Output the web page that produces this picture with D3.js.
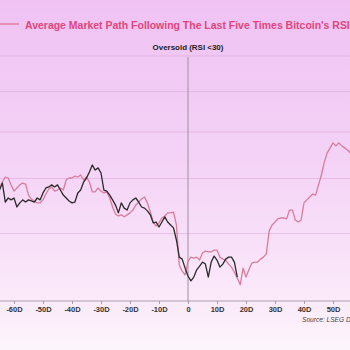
<!DOCTYPE html>
<html><head><meta charset="utf-8">
<script src="https://cdn.jsdelivr.net/npm/d3@7/dist/d3.min.js"></script>
<style>html,body{margin:0;padding:0;overflow:hidden;background:#fff}</style>
</head><body>
<svg id="chart" width="350" height="350"></svg>
<script>
const titleText = "Average Market Path Following The Last Five Times Bitcoin's RSI";
const annotationText = "Oversold (RSI <30)";
const sourceText = "Source: LSEG Datastream";
const tickDays = [-60,-50,-40,-30,-20,-10,0,10,20,30,40,50];
const tickLabels = ["-60D","-50D","-40D","-30D","-20D","-10D","0","10D","20D","30D","40D","50D"];
const gridValues = [100,120,140,160,180];

const pinkDays = [-65,-64,-63,-62,-61,-60,-59,-58,-57,-56,-55,-54,-53,-52,-51,-50,-49,-48,-47,-46,-45,-44,-43,-42,-41,-40,-39,-38,-37,-36,-35,-34,-33,-32,-31,-30,-29,-28,-27,-26,-25,-24,-23,-22,-21,-20,-19,-18,-17,-16,-15,-14,-13,-12,-11,-10,-9,-8,-7,-6,-5,-4,-3,-2,-1,0,1,2,3,4,5,6,7,8,9,10,11,12,13,14,15,16,17,18,19,20,21,22,23,24,25,26,27,28,29,30,31,32,33,34,35,36,37,38,39,40,41,42,43,44,45,46,47,48,49,50,51,52,53,54,55,56];
const pinkValues = [116.3,118.6,120.6,120.2,117.5,115.1,116.3,117.5,118.2,117.8,113.6,112.1,111.4,110.7,110.7,111.8,114.0,115.9,116.7,115.1,115.5,116.3,115.5,119.4,120.2,120.2,121.0,120.6,121.4,119.4,120.6,118.6,114.8,114.8,116.3,115.1,114.4,114.8,112.5,109.2,106.7,106.0,106.4,105.7,106.4,107.1,108.1,109.9,111.0,112.1,112.9,110.7,107.4,103.9,102.5,103.6,105.3,106.0,107.1,107.1,107.4,102.9,90.1,88.3,87.2,91.3,92.5,92.2,92.5,91.6,93.8,94.4,94.1,94.1,94.7,94.7,92.5,91.9,91.6,90.4,89.5,88.0,86.3,84.4,89.2,86.6,88.7,90.7,91.0,91.0,91.9,92.5,93.5,100.9,102.9,103.9,105.0,105.3,105.3,105.0,108.1,108.1,104.6,103.9,104.6,110.7,111.8,112.9,114.0,113.6,117.5,121.4,126.7,130.6,132.8,135.0,133.7,135.0,133.7,132.8,131.9,130.6];

const blackDays = [-65,-64,-63,-62,-61,-60,-59,-58,-57,-56,-55,-54,-53,-52,-51,-50,-49,-48,-47,-46,-45,-44,-43,-42,-41,-40,-39,-38,-37,-36,-35,-34,-33,-32,-31,-30,-29,-28,-27,-26,-25,-24,-23,-22,-21,-20,-19,-18,-17,-16,-15,-14,-13,-12,-11,-10,-9,-8,-7,-6,-5,-4,-3,-2,-1,0,1,2,3,4,5,6,7,8,9,10,11,12,13,14,15,16,17];
const blackValues = [115.5,118.2,111.0,112.5,111.8,112.5,109.2,110.7,111.8,111.0,111.8,111.4,111.0,112.5,111.8,114.4,116.3,116.7,117.5,116.7,117.5,115.5,113.6,112.5,111.4,110.7,111.0,114.4,115.5,118.6,120.2,122.6,125.5,123.4,124.3,122.2,115.5,115.1,113.6,111.8,109.9,107.1,110.7,108.8,108.1,110.7,111.8,112.5,111.0,109.2,108.8,107.8,106.4,103.6,103.9,102.2,103.9,105.7,103.9,102.9,101.9,97.9,92.5,91.9,89.2,86.9,85.5,86.6,88.7,89.8,91.0,90.4,86.6,91.0,92.8,91.6,89.5,90.4,91.9,92.5,92.5,91.0,86.6];

const svg = d3.select("#chart");
const W = 350, H = 350;

const defs = svg.append("defs");
const grad = defs.append("linearGradient").attr("id","bg").attr("x1",0).attr("y1",0).attr("x2",0).attr("y2",1);
grad.append("stop").attr("offset","0%").attr("stop-color","#efc2f3");
grad.append("stop").attr("offset","45%").attr("stop-color","#f4d2f6");
grad.append("stop").attr("offset","86%").attr("stop-color","#fbeafa");
grad.append("stop").attr("offset","100%").attr("stop-color","#fdf5fc");
svg.append("rect").attr("width",W).attr("height",H).attr("fill","url(#bg)");

const x = d3.scaleLinear().domain([-60,50]).range([14,333]);
const y = d3.scaleLog().domain([80,180]).range([301,56]);

defs.append("clipPath").attr("id","plotclip").append("rect")
  .attr("x",0).attr("y",40).attr("width",W).attr("height",261);

// gridlines
svg.append("g").selectAll("line").data(gridValues).join("line")
  .attr("x1",0).attr("x2",W).attr("y1",d=>y(d)).attr("y2",d=>y(d))
  .attr("stroke","#d9a6d9").attr("stroke-opacity",0.55).attr("stroke-width",1);

// vertical marker at day 0
svg.append("line").attr("x1",x(0)).attr("x2",x(0)).attr("y1",57).attr("y2",301)
  .attr("stroke","#a090a0").attr("stroke-width",1);

// lines
const line = d3.line().x(d=>x(d[0])).y(d=>y(d[1]));
const pinkData = pinkDays.map((d,i)=>[d,pinkValues[i]]);
const blackData = blackDays.map((d,i)=>[d,blackValues[i]]);
const lg = svg.append("g").attr("clip-path","url(#plotclip)");
lg.append("path").datum(pinkData).attr("d",line).attr("fill","none")
  .attr("stroke","#d87c9c").attr("stroke-width",1.3).attr("stroke-linejoin","round");
lg.append("path").datum(blackData).attr("d",line).attr("fill","none")
  .attr("stroke","#2a2a2a").attr("stroke-width",1.3).attr("stroke-linejoin","round");

// x axis
const xAxis = d3.axisBottom(x).tickValues(tickDays).tickFormat((d,i)=>tickLabels[i]).tickSize(3).tickPadding(3);
const ax = svg.append("g").attr("transform","translate(0,301)").call(xAxis);
ax.select(".domain").remove();
ax.append("line").attr("x1",0).attr("x2",W).attr("y1",0).attr("y2",0).attr("stroke","#a8a0a8");
ax.selectAll(".tick line").attr("stroke","#a8a0a8");
ax.selectAll(".tick text").attr("fill","#333").attr("font-family","'Liberation Sans', Arial, sans-serif")
  .attr("font-weight","bold").attr("font-size",7.5);

function fitText(sel, target){
  let fs = +sel.attr("font-size");
  const w = sel.node().getComputedTextLength();
  if (w>0) sel.attr("font-size", fs*target/w);
}

// legend line + title
svg.append("line").attr("x1",0).attr("x2",19).attr("y1",24).attr("y2",24)
  .attr("stroke","#e27ca2").attr("stroke-width",1.5);
const t = svg.append("text").attr("x",25).attr("y",29).text(titleText)
  .attr("font-family","'Liberation Sans', Arial, sans-serif").attr("font-weight","bold")
  .attr("font-size",10.5).attr("fill","#e0467c");
fitText(t, 325);

const a = svg.append("text").attr("x",x(0)).attr("y",50).attr("text-anchor","middle").text(annotationText)
  .attr("font-family","'Liberation Sans', Arial, sans-serif").attr("font-weight","bold")
  .attr("font-size",8).attr("fill","#222");
fitText(a, 71);

svg.append("text").attr("x",302).attr("y",322).text(sourceText)
  .attr("font-family","'Liberation Sans', Arial, sans-serif").attr("font-style","italic")
  .attr("font-size",6.6).attr("fill","#444");
</script>
</body></html>
